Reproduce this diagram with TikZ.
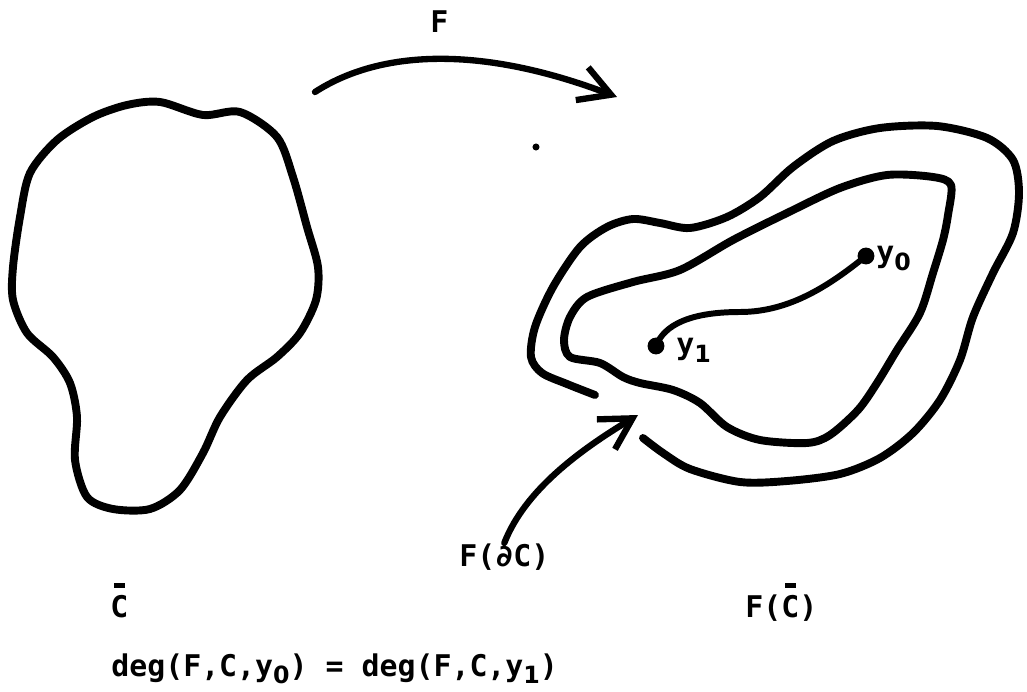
\documentclass[tikz,border=0pt]{standalone}
\usepackage{fontspec}
\setmonofont{DejaVu Sans Mono}
\newfontfamily\subfont{DejaVu Sans}
\usetikzlibrary{arrows.meta}

\newcommand\subidx[1]{\raisebox{-4.5pt}{\subfont\bfseries\fontsize{13.5}{14}\selectfont #1}}
\newcommand\barC{\leavevmode\rlap{\hspace{2.2pt}\raisebox{16.5pt}{\rule{6.3pt}{2.8pt}}}C}

\begin{document}
\begin{tikzpicture}[
    x=0.02cm, y=-0.02cm,
    curve/.style={line width=4.5pt, line cap=round, line join=round},
    thinpath/.style={line width=3.4pt, line cap=round},
    arrow/.style={line width=3.6pt, line cap=round, -{Straight Barb[length=0.62cm, width=0.7cm, line width=3.6pt]}},
    label/.style={font=\ttfamily\bfseries\fontsize{17}{19}\selectfont, inner sep=0pt, anchor=base west},
  ]
  \useasboundingbox (0,0) rectangle (1027,692);

  % The set C
  \draw[curve] plot[smooth cycle] coordinates {
    (160,102) (203,115) (240,112) (277,137) (293,177) (307,227) (318,267)
    (316,300) (300,333) (277,357) (247,380) (220,417) (203,453) (180,490)
    (150,509) (113,509) (87,497) (75,460) (77,417) (70,383) (53,357)
    (27,333) (13,300) (13,267) (20,217) (30,173) (57,140) (93,117) (127,105)};

  % The image F(C), outer boundary with a gap
  \draw[curve] plot[smooth] coordinates {
    (643,438) (663,453) (690,469) (740,482) (787,481) (840,474) (880,458)
    (913,433) (940,400) (960,360) (973,317) (993,273) (1013,233) (1019,193)
    (1013,160) (987,138) (937,126) (880,128) (833,141) (793,167) (760,197)
    (727,217) (690,228) (660,223) (633,219) (607,227) (580,247) (553,287)
    (535,327) (531,357) (542,373) (567,384) (595,395)};

  % Inner boundary
  \draw[curve] plot[smooth cycle] coordinates {
    (887,175) (933,177) (951,185) (948,215) (943,240) (933,273) (920,313)
    (897,350) (877,383) (858,410) (830,435) (807,443) (760,440) (727,427)
    (700,403) (673,390) (640,383) (623,377) (600,363) (570,357) (564,340)
    (570,317) (587,297) (633,282) (680,270) (733,240) (787,213) (840,188)};

  % Path from y0 to y1
  \coordinate (y0) at (866,256);
  \coordinate (y1) at (656,346);
  \draw[thinpath] (y0) .. controls (830,285) and (790,312) .. (740,312)
    .. controls (690,312) and (664,325) .. (y1);
  \fill (y0) circle[radius=4.8pt];
  \fill (y1) circle[radius=4.8pt];
  \node[label] (ylab0) at (876,263) {y\subidx{0}};
  \node[label] (ylab1) at (676,355) {y\subidx{1}};

  % Stray dot
  \fill (536,147) circle[radius=2pt];

  % The map F
  \coordinate (fstart) at (315,92);
  \coordinate (fend) at (617,97);
  \node[label] (flabel) at (430,33) {F};
  \draw[arrow] (fstart) .. controls (380,50) and (480,45) .. (fend);

  % Labels
  \node[label] (fdc) at (459,566) {F(∂C)};
  \coordinate (gap) at (638,415);
  \draw[arrow] (fdc.north) .. controls (525,490) and (580,450) .. (gap);

  \node[label] (cbar) at (110,617) {\barC};
  \node[label] (fcbar) at (745,617) {F(\barC)};
  \node[label] (deg) at (111,676) {deg(F,C,y\subidx{0}) = deg(F,C,y\subidx{1})};

\end{tikzpicture}
\end{document}
